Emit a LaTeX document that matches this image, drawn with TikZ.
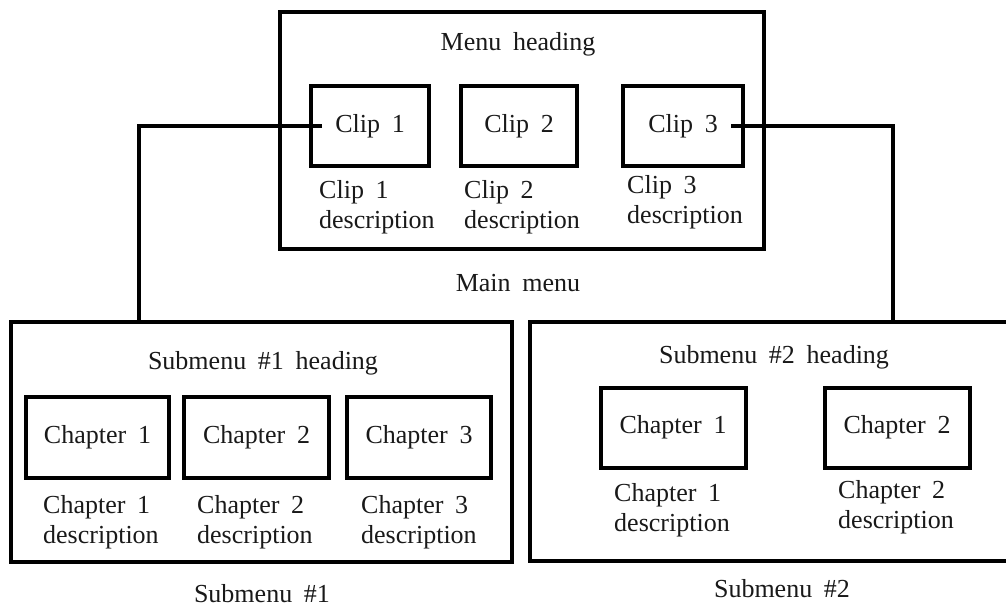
\documentclass[tikz,border=0pt]{standalone}
\usepackage{fontspec}
\setmainfont{Liberation Serif}[WordSpace=1.8]
\begin{document}
\begin{tikzpicture}[x=1pt,y=-1pt,
  frame/.style={draw=black,line width=4pt,inner sep=0pt,font={\fontsize{26}{30}\selectfont},text=black!90},
  lbl/.style={inner sep=0pt,font={\fontsize{26}{30}\selectfont},text=black!90},
  desc/.style={lbl,anchor=north west,align=left},
  wire/.style={draw=black,line width=4pt}]
\useasboundingbox (0,0) rectangle (1006,606);
\clip (0,0) rectangle (1006,606);
% main menu
\node[frame,minimum width=484pt,minimum height=237pt] (main) at (522,130.5) {};
\node[lbl,anchor=base] (mainhead) at (518,50) {Menu heading};
\node[frame,minimum width=118pt,minimum height=80pt] (c1) at (370,126) {Clip 1};
\node[frame,minimum width=116pt,minimum height=80pt] (c2) at (519,126) {Clip 2};
\node[frame,minimum width=120pt,minimum height=80pt] (c3) at (683,126) {Clip 3};
\node[desc] (c1d) at (319,180) {Clip 1\\description};
\node[desc] (c2d) at (464,180) {Clip 2\\description};
\node[desc] (c3d) at (627,175) {Clip 3\\description};
\node[lbl,anchor=base] (mainlbl) at (518,291) {Main menu};
% submenu 1
\node[frame,minimum width=501pt,minimum height=240pt] (s1) at (261.5,442) {};
\node[lbl,anchor=base] (s1head) at (263,369) {Submenu \#1 heading};
\node[frame,minimum width=143pt,minimum height=81pt] (s1a) at (97.5,437) {Chapter 1};
\node[frame,minimum width=145pt,minimum height=81pt] (s1b) at (256.5,437.5) {Chapter 2};
\node[frame,minimum width=144pt,minimum height=81pt] (s1c) at (419,437.5) {Chapter 3};
\node[desc] (s1ad) at (43,495) {Chapter 1\\description};
\node[desc] (s1bd) at (197,495) {Chapter 2\\description};
\node[desc] (s1cd) at (361,495) {Chapter 3\\description};
\node[lbl,anchor=base] (s1lbl) at (262,602) {Submenu \#1};
% submenu 2
\node[frame,minimum width=482.5pt,minimum height=238.5pt] (s2) at (770.75,441.25) {};
\node[lbl,anchor=base] (s2head) at (774,363) {Submenu \#2 heading};
\node[frame,minimum width=145pt,minimum height=80pt] (s2a) at (673,427.5) {Chapter 1};
\node[frame,minimum width=145pt,minimum height=80pt] (s2b) at (897,427.5) {Chapter 2};
\node[desc] (s2ad) at (614,483) {Chapter 1\\description};
\node[desc] (s2bd) at (838,480) {Chapter 2\\description};
\node[lbl,anchor=base] (s2lbl) at (782,597) {Submenu \#2};
% connectors
\coordinate (j1) at (139,322);
\coordinate (j2) at (892.5,322);
\draw[wire] ([xshift=13pt]c1.west) -| (j1);
\draw[wire] ([xshift=-14pt]c3.east) -| (j2);
\end{tikzpicture}
\end{document}
